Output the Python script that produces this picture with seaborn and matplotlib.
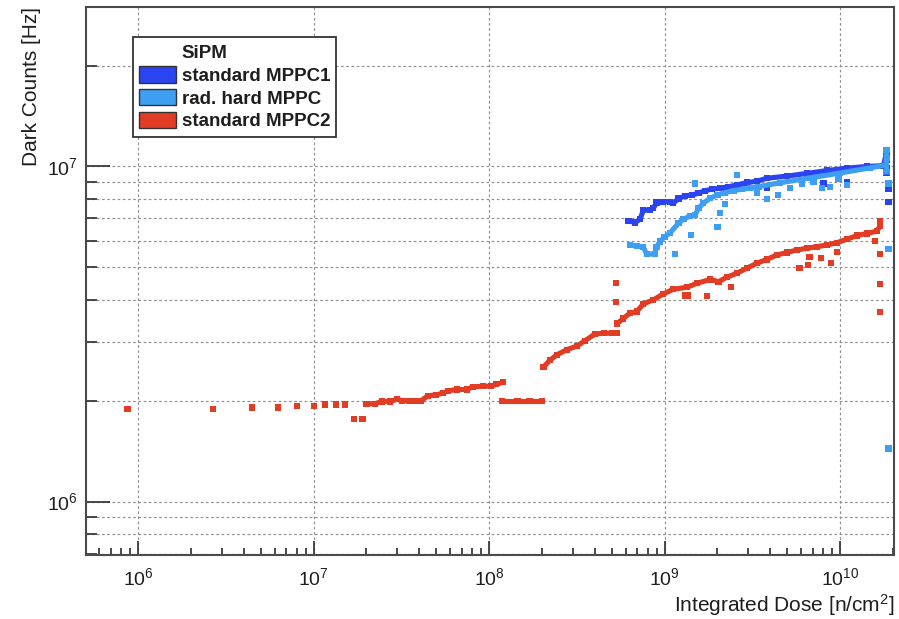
import numpy as np
import pandas as pd
import matplotlib
matplotlib.use("Agg")
import matplotlib.pyplot as plt
import seaborn as sns
from matplotlib.patches import Patch
from matplotlib.ticker import LogLocator, NullFormatter, LogFormatterSciNotation

# ---------------- data ----------------
series_names = ["standard MPPC1", "rad. hard MPPC", "standard MPPC2"]
legend_title = "SiPM"
x_label = "Integrated Dose [n/cm$^{2}$]"
y_label = "Dark Counts [Hz]"

# standard MPPC2 (red) - continuous runs, seg = run index
mppc2_dose = [2.0e7, 2.24e7, 2.44e7, 2.72e7, 3.0e7, 3.2e7, 3.5e7, 3.8e7, 4.1e7, 4.48e7,
              5.0e7, 5.46e7, 5.83e7, 6.54e7, 7.46e7, 8.1e7, 9.2e7, 1.03e8, 1.10e8, 1.20e8,
              1.19e8, 1.45e8, 1.7e8, 2.0e8,
              2.04e8, 2.22e8, 2.43e8, 2.77e8, 3.16e8, 3.52e8, 4.0e8, 4.5e8, 5.0e8, 5.34e8,
              5.38e8, 5.82e8, 6.35e8, 6.95e8, 7.57e8, 8.63e8, 9.8e8, 1.12e9, 1.34e9, 1.53e9,
              1.82e9, 2.03e9, 2.26e9, 2.58e9, 2.94e9, 3.36e9, 3.82e9, 4.36e9, 5.0e9, 5.67e9,
              6.47e9, 7.37e9, 8.41e9, 9.59e9, 1.09e10, 1.25e10, 1.42e10, 1.62e10, 1.69e10, 1.69e10]
mppc2_counts = [1.96e6, 1.96e6, 1.99e6, 1.99e6, 2.02e6, 2.0e6, 2.0e6, 2.0e6, 2.0e6, 2.07e6,
                2.08e6, 2.11e6, 2.14e6, 2.16e6, 2.16e6, 2.20e6, 2.21e6, 2.21e6, 2.24e6, 2.27e6,
                2.0e6, 2.0e6, 2.0e6, 2.0e6,
                2.52e6, 2.64e6, 2.74e6, 2.84e6, 2.91e6, 3.02e6, 3.16e6, 3.18e6, 3.18e6, 3.18e6,
                3.40e6, 3.52e6, 3.65e6, 3.69e6, 3.89e6, 4.0e6, 4.16e6, 4.30e6, 4.36e6, 4.48e6,
                4.60e6, 4.53e6, 4.67e6, 4.80e6, 4.97e6, 5.14e6, 5.28e6, 5.44e6, 5.54e6, 5.63e6,
                5.70e6, 5.76e6, 5.83e6, 5.92e6, 6.06e6, 6.22e6, 6.31e6, 6.41e6, 6.64e6, 6.87e6]
mppc2_seg = [0] * 20 + [1] * 4 + [2] * 10 + [3] * 30

# standard MPPC2 (red) - separate points
mppc2_iso_dose = [8.7e5, 2.68e6, 4.46e6, 6.28e6, 8.06e6, 1.0e7, 1.16e7, 1.34e7, 1.51e7, 1.70e7, 1.90e7,
                  5.3e8, 5.3e8, 1.31e9, 1.36e9, 1.75e9, 2.38e9, 5.87e9, 6.6e9, 6.7e9, 7.77e9, 8.9e9,
                  9.6e9, 1.58e10, 1.69e10, 1.69e10, 1.69e10]
mppc2_iso_counts = [1.89e6, 1.89e6, 1.91e6, 1.91e6, 1.93e6, 1.93e6, 1.95e6, 1.95e6, 1.95e6, 1.76e6, 1.76e6,
                    4.50e6, 3.94e6, 4.12e6, 4.12e6, 4.10e6, 4.36e6, 4.98e6, 5.08e6, 5.38e6, 5.32e6, 5.16e6,
                    5.57e6, 6.0e6, 5.48e6, 4.45e6, 3.68e6]

# standard MPPC1 (blue)
mppc1_dose = [6.22e8, 6.79e8, 7.25e8, 7.57e8, 8.27e8, 8.63e8, 9.0e8, 9.8e8, 1.07e9, 1.12e9,
              1.20e9, 1.31e9, 1.43e9, 1.56e9, 1.70e9, 1.86e9, 2.07e9, 2.31e9, 2.58e9, 2.94e9,
              3.36e9, 3.82e9, 5.0e9, 6.47e9, 8.41e9, 1.09e10, 1.42e10, 1.77e10,
              1.84e10, 1.84e10, 1.84e10, 1.84e10]
mppc1_counts = [6.88e6, 6.80e6, 6.96e6, 7.41e6, 7.41e6, 7.50e6, 7.80e6, 7.85e6, 7.85e6, 7.77e6,
                8.02e6, 8.17e6, 8.22e6, 8.32e6, 8.47e6, 8.55e6, 8.61e6, 8.70e6, 8.80e6, 8.95e6,
                9.03e6, 9.22e6, 9.36e6, 9.53e6, 9.72e6, 9.88e6, 1.0e7, 1.005e7,
                1.10e7, 1.046e7, 0.99e7, 0.956e7]
mppc1_iso_dose = [3.82e9, 8.05e9, 1.09e10, 1.89e10, 1.89e10]
mppc1_iso_counts = [8.61e6, 8.9e6, 9.0e6, 8.55e6, 7.82e6]

# rad. hard MPPC (light blue)
radhard_dose = [6.35e8, 6.95e8, 7.57e8, 7.9e8, 8.8e8, 9.0e8, 9.43e8, 1.0e9, 1.07e9, 1.20e9,
                1.28e9, 1.40e9, 1.49e9, 1.56e9, 1.66e9, 1.82e9, 2.0e9, 2.21e9, 2.47e9, 2.76e9,
                3.07e9, 3.43e9, 4.55e9, 6.75e9, 1.0e10, 1.48e10, 1.83e10,
                1.84e10, 1.84e10, 1.84e10]
radhard_counts = [5.83e6, 5.79e6, 5.74e6, 5.48e6, 5.48e6, 5.76e6, 5.97e6, 6.17e6, 6.32e6, 6.77e6,
                  6.96e6, 7.12e6, 7.15e6, 7.5e6, 7.77e6, 8.04e6, 8.22e6, 8.35e6, 8.47e6, 8.55e6,
                  8.61e6, 8.70e6, 8.94e6, 9.24e6, 9.56e6, 9.9e6, 1.01e7,
                  1.12e7, 1.06e7, 0.963e7]
radhard_iso_dose = [1.15e9, 1.42e9, 2.0e9, 2.07e9, 2.21e9, 1.49e9, 2.58e9, 3.36e9, 3.82e9, 4.45e9,
                    5.19e9, 6.05e9, 7.05e9, 7.87e9, 8.78e9, 9.8e9, 1.09e10, 1.89e10, 1.89e10, 1.89e10]
radhard_iso_counts = [5.48e6, 6.24e6, 6.58e6, 7.25e6, 7.73e6, 8.9e6, 9.43e6, 8.32e6, 7.98e6, 8.2e6,
                      8.61e6, 8.86e6, 8.98e6, 8.61e6, 8.70e6, 9.15e6, 8.78e6, 8.89e6, 5.66e6, 1.44e6]

colors = {"standard MPPC1": "#2b44f2", "rad. hard MPPC": "#3d9ef3", "standard MPPC2": "#e23c24"}

# ---------------- style ----------------
sns.set_style("ticks")
plt.rcParams['font.family'] = ['Liberation Sans', 'DejaVu Sans']
plt.rcParams['mathtext.fontset'] = 'custom'
plt.rcParams['mathtext.rm'] = 'Liberation Sans'
plt.rcParams['mathtext.it'] = 'Liberation Sans:italic'
plt.rcParams['mathtext.bf'] = 'Liberation Sans:bold'
text_col = '#1e1e1e'

fig = plt.figure(figsize=(8.99, 6.19), dpi=100)
ax = fig.add_axes([86 / 899, 1 - 555 / 619, 808 / 899, 548 / 619])
ax.set_xscale('log')
ax.set_yscale('log')

def trend(dose, counts, seg=None):
    if seg is None:
        seg = [0] * len(dose)
    return pd.DataFrame({"dose": dose, "counts": counts, "seg": seg})

lw = 3.7
msize = 20
for name, d, c, s, idd, idc in [
    ("standard MPPC1", mppc1_dose, mppc1_counts, None, mppc1_iso_dose, mppc1_iso_counts),
    ("rad. hard MPPC", radhard_dose, radhard_counts, None, radhard_iso_dose, radhard_iso_counts),
    ("standard MPPC2", mppc2_dose, mppc2_counts, mppc2_seg, mppc2_iso_dose, mppc2_iso_counts),
]:
    df = trend(d, c, s)
    sns.lineplot(data=df, x="dose", y="counts", units="seg", estimator=None, sort=False,
                 color=colors[name], lw=lw, ax=ax, legend=False)
    sns.scatterplot(data=df, x="dose", y="counts", marker='s', s=msize, color=colors[name],
                    edgecolor='none', linewidth=0, ax=ax, legend=False)
    sns.scatterplot(x=idd, y=idc, marker='s', s=msize, color=colors[name],
                    edgecolor='none', linewidth=0, ax=ax, legend=False)

ax.set_xlim(5.04e5, 2.03e10)
ax.set_ylim(6.93e5, 2.99e7)

for axis in (ax.xaxis, ax.yaxis):
    axis.set_major_locator(LogLocator(base=10, numticks=30))
    axis.set_minor_locator(LogLocator(base=10, subs=np.arange(2, 10), numticks=100))
    axis.set_minor_formatter(NullFormatter())
    axis.set_major_formatter(LogFormatterSciNotation())

tick_col = '#3a3a3a'
ax.tick_params(axis='both', which='both', direction='in', color=tick_col, labelcolor=text_col,
               top=False, right=False)
ax.tick_params(axis='y', which='major', length=17, width=1.3, labelsize=14, pad=6)
ax.tick_params(axis='y', which='minor', length=8, width=1.3)
ax.tick_params(axis='x', which='major', length=10, width=1.3, labelsize=14, pad=9)
ax.tick_params(axis='x', which='minor', length=5, width=1.3)

grid_kw = dict(ls=(0, (2.2, 2.2)), color='#8f8f8f', lw=0.85)
ax.grid(True, which='major', axis='x', **grid_kw)
ax.grid(True, which='both', axis='y', **grid_kw)
ax.set_axisbelow(True)

for sp in ax.spines.values():
    sp.set_visible(True)
    sp.set_color('#4a4a4a')
    sp.set_linewidth(1.5)

ax.set_xlabel(x_label, fontsize=15, color=text_col, loc='right')
ax.xaxis.set_label_coords(1.0, -0.068)
ax.set_ylabel(y_label, fontsize=15, color=text_col, loc='top')
ax.yaxis.set_label_coords(-0.056, 1.0)

handles = [Patch(facecolor='none', edgecolor='none', label=legend_title)]
for name in series_names:
    handles.append(Patch(facecolor=colors[name], edgecolor='#333333', lw=1.0, label=name))
leg = ax.legend(handles=handles, loc='upper left',
                bbox_to_anchor=((133 - 86) / 808, (555 - 37.3) / 548),
                borderaxespad=0, frameon=True, fancybox=False, framealpha=1,
                edgecolor='#333333',
                prop={'family': ['Liberation Sans', 'DejaVu Sans'], 'weight': 'bold', 'size': 13.5},
                handlelength=1.94, handleheight=0.97, handletextpad=0.32,
                borderpad=0.33, labelspacing=0.22)
leg.get_frame().set_linewidth(1.3)
for t in leg.get_texts():
    t.set_color(text_col)

fig.savefig('out.png', dpi=100)
